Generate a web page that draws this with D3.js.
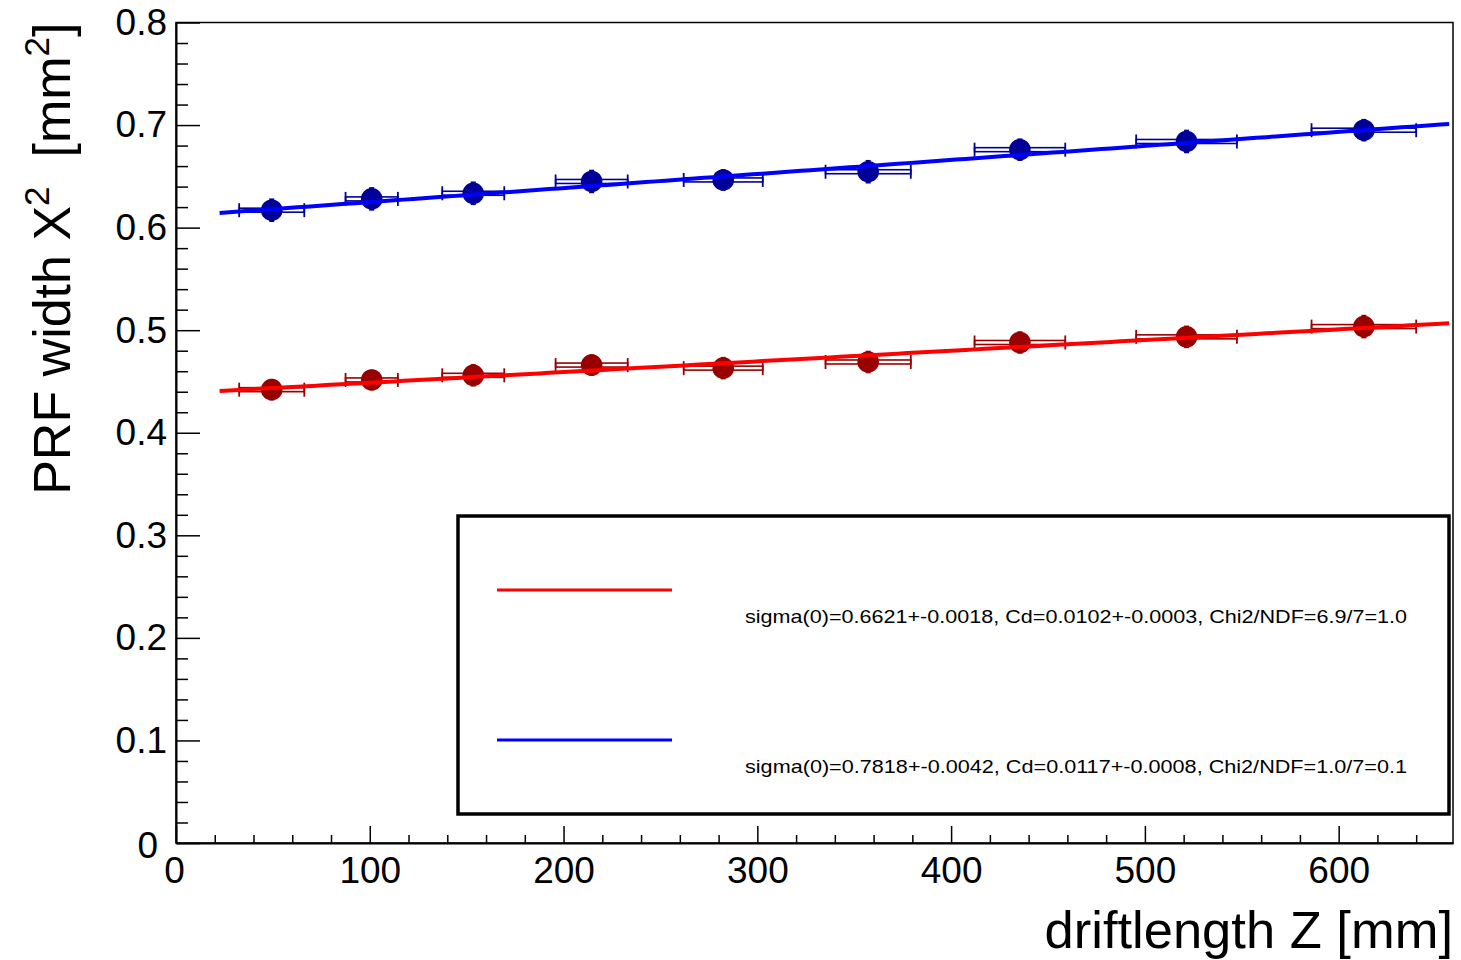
<!DOCTYPE html>
<html>
<head>
<meta charset="utf-8">
<script src="https://cdn.jsdelivr.net/npm/d3@7"></script>
<style>
  html, body { margin: 0; padding: 0; background: #fff; }
  svg { display: block; font-family: "Liberation Sans", Arial, Helvetica, sans-serif; }
  .title { white-space: pre; }
</style>
</head>
<body>
<svg id="chart" width="1461" height="960"></svg>
<script>
// Drift length bin centres [mm] and their half widths
const driftZ = [49.4, 101, 153.4, 214.5, 282.4, 357.2, 435.5, 521.5, 613];
const driftZErr = [16.8, 13.5, 16, 18.6, 20.4, 22, 23.4, 26, 27];

// Squared PRF width [mm^2] for the two data sets
const widthRed = [0.442, 0.4515, 0.456, 0.466, 0.463, 0.469, 0.488, 0.4935, 0.5035];
const widthRedErr = [0.0105, 0.010, 0.011, 0.0105, 0.011, 0.011, 0.011, 0.011, 0.0115];
const widthBlue = [0.617, 0.628, 0.6335, 0.645, 0.6465, 0.6545, 0.676, 0.684, 0.695];
const widthBlueErr = [0.0115, 0.0115, 0.0115, 0.0115, 0.0105, 0.0115, 0.011, 0.0115, 0.011];

// Fit results: sigma^2(z) = sigma0^2 + Cd^2 * z
const fitNames = ["red", "blue"];
const fitSigma0 = [0.6621, 0.7818];
const fitCd = [0.0102, 0.0117];
const fitRange = [22.5, 657];
const fitLabels = [
  "sigma(0)=0.6621+-0.0018, Cd=0.0102+-0.0003, Chi2/NDF=6.9/7=1.0",
  "sigma(0)=0.7818+-0.0042, Cd=0.0117+-0.0008, Chi2/NDF=1.0/7=0.1"
];

// Axis ticks
const xTicks = [0, 100, 200, 300, 400, 500, 600];
const yTicks = [0, 0.1, 0.2, 0.3, 0.4, 0.5, 0.6, 0.7, 0.8];
const yTickLabels = ["0", "0.1", "0.2", "0.3", "0.4", "0.5", "0.6", "0.7", "0.8"];

const lineColors = { red: "#ff0000", blue: "#0000ff" };
const markerColors = { red: "#990000", blue: "#000099" };

const svg = d3.select("#chart");
const frame = { left: 176, right: 1453, top: 22.5, bottom: 843 };

const x = d3.scaleLinear().domain([0, 659]).range([frame.left, frame.right]);
const y = d3.scaleLinear().domain([0, 0.8]).range([frame.bottom, frame.top]);

// Frame
svg.append("rect")
  .attr("x", frame.left).attr("y", frame.top)
  .attr("width", frame.right - frame.left).attr("height", frame.bottom - frame.top)
  .attr("fill", "none").attr("stroke", "#000").attr("stroke-width", 1.5);

// Minor ticks
const xMinor = d3.range(0, 660, 20).filter(v => v % 100 !== 0);
const yMinor = d3.range(0, 0.8001, 0.02).filter(v => Math.abs(v * 10 - Math.round(v * 10)) > 1e-6);

svg.append("g")
  .attr("transform", `translate(0,${frame.bottom})`)
  .call(d3.axisBottom(x).tickValues(xMinor).tickSize(-8).tickFormat(""))
  .call(g => g.select(".domain").remove())
  .call(g => g.selectAll("line").attr("stroke-width", 1.5));

svg.append("g")
  .attr("transform", `translate(${frame.left},0)`)
  .call(d3.axisLeft(y).tickValues(yMinor).tickSize(-12).tickFormat(""))
  .call(g => g.select(".domain").remove())
  .call(g => g.selectAll("line").attr("stroke-width", 1.5));

// Major ticks and labels
svg.append("g")
  .attr("transform", `translate(0,${frame.bottom})`)
  .call(d3.axisBottom(x).tickValues(xTicks).tickSizeInner(-17).tickSizeOuter(0).tickPadding(14).tickFormat(d3.format("d")))
  .call(g => g.select(".domain").attr("stroke-width", 2))
  .call(g => g.selectAll("line").attr("stroke-width", 1.5))
  .call(g => g.selectAll("text").attr("font-size", 37).attr("font-family", null).attr("fill", "#000"))
  .call(g => g.selectAll(".tick").filter(d => d === 0).select("text").attr("dx", -2));

svg.append("g")
  .attr("transform", `translate(${frame.left},0)`)
  .call(d3.axisLeft(y).tickValues(yTicks).tickSizeInner(-24).tickSizeOuter(0).tickPadding(9)
    .tickFormat((d, i) => yTickLabels[i]))
  .call(g => g.select(".domain").attr("stroke-width", 2))
  .call(g => g.selectAll("line").attr("stroke-width", 1.5))
  .call(g => g.selectAll("text").attr("font-size", 37).attr("font-family", null).attr("fill", "#000"))
  .call(g => g.selectAll(".tick").filter(d => d === 0).select("text").attr("dx", -9).attr("dy", "0.38em"));

// Axis titles
svg.append("text").attr("class", "title")
  .attr("x", frame.right).attr("y", 948)
  .attr("text-anchor", "end").attr("font-size", 52.5)
  .text("driftlength Z [mm]");

const yt = svg.append("text").attr("class", "title")
  .attr("transform", `translate(70,${frame.top}) rotate(-90)`)
  .attr("text-anchor", "end").attr("font-size", 52);
yt.append("tspan").text("PRF width X");
yt.append("tspan").attr("font-size", 35).attr("dy", -21).text("2");
yt.append("tspan").attr("dy", 21).text("  [mm");
yt.append("tspan").attr("font-size", 35).attr("dy", -21).text("2");
yt.append("tspan").attr("dy", 21).text("]");

// Data sets
const sets = [
  { name: "red", vals: widthRed, errs: widthRedErr },
  { name: "blue", vals: widthBlue, errs: widthBlueErr }
];

const plot = svg.append("g");

sets.forEach(s => {
  const pts = driftZ.map((z, i) => ({ z, ez: driftZErr[i], v: s.vals[i], ev: s.errs[i] }));
  const col = markerColors[s.name];
  const g = plot.append("g");

  // horizontal error bars (hollow band) with end caps
  g.selectAll("rect.hbar").data(pts).join("rect")
    .attr("x", d => x(d.z - d.ez)).attr("y", d => y(d.v) - 2)
    .attr("width", d => x(d.z + d.ez) - x(d.z - d.ez)).attr("height", 4)
    .attr("fill", "none").attr("stroke", col).attr("stroke-width", 1.6);
  g.selectAll("line.capl").data(pts).join("line")
    .attr("x1", d => x(d.z - d.ez)).attr("x2", d => x(d.z - d.ez))
    .attr("y1", d => y(d.v) - 7).attr("y2", d => y(d.v) + 7)
    .attr("stroke", col).attr("stroke-width", 1.8);
  g.selectAll("line.capr").data(pts).join("line")
    .attr("x1", d => x(d.z + d.ez)).attr("x2", d => x(d.z + d.ez))
    .attr("y1", d => y(d.v) - 7).attr("y2", d => y(d.v) + 7)
    .attr("stroke", col).attr("stroke-width", 1.8);

  // vertical error bars
  g.selectAll("line.vbar").data(pts).join("line")
    .attr("x1", d => x(d.z)).attr("x2", d => x(d.z))
    .attr("y1", d => y(d.v - d.ev)).attr("y2", d => y(d.v + d.ev))
    .attr("stroke", col).attr("stroke-width", 5);

  // markers
  g.selectAll("circle").data(pts).join("circle")
    .attr("cx", d => x(d.z)).attr("cy", d => y(d.v)).attr("r", 10.8)
    .attr("fill", col);
});

// Fit curves drawn over the data
fitNames.forEach((name, i) => {
  const s0 = fitSigma0[i], cd = fitCd[i];
  const f = z => s0 * s0 + cd * cd * z;
  const zs = d3.range(fitRange[0], fitRange[1], 5).concat([fitRange[1]]);
  plot.append("path")
    .datum(zs)
    .attr("d", d3.line().x(z => x(z)).y(z => y(f(z))))
    .attr("fill", "none").attr("stroke", lineColors[name]).attr("stroke-width", 4);
});

// Legend
const leg = svg.append("g");
leg.append("rect")
  .attr("x", 458).attr("y", 516).attr("width", 991).attr("height", 298)
  .attr("fill", "#fff").attr("stroke", "#000").attr("stroke-width", 3.5);

const legRows = [590, 740];
fitNames.forEach((name, i) => {
  leg.append("line")
    .attr("x1", 497).attr("x2", 672).attr("y1", legRows[i]).attr("y2", legRows[i])
    .attr("stroke", lineColors[name]).attr("stroke-width", 3);
  leg.append("text")
    .attr("x", 745).attr("y", legRows[i] + 33)
    .attr("font-size", 18.5)
    .attr("textLength", 662).attr("lengthAdjust", "spacingAndGlyphs")
    .text(fitLabels[i]);
});
</script>
</body>
</html>
